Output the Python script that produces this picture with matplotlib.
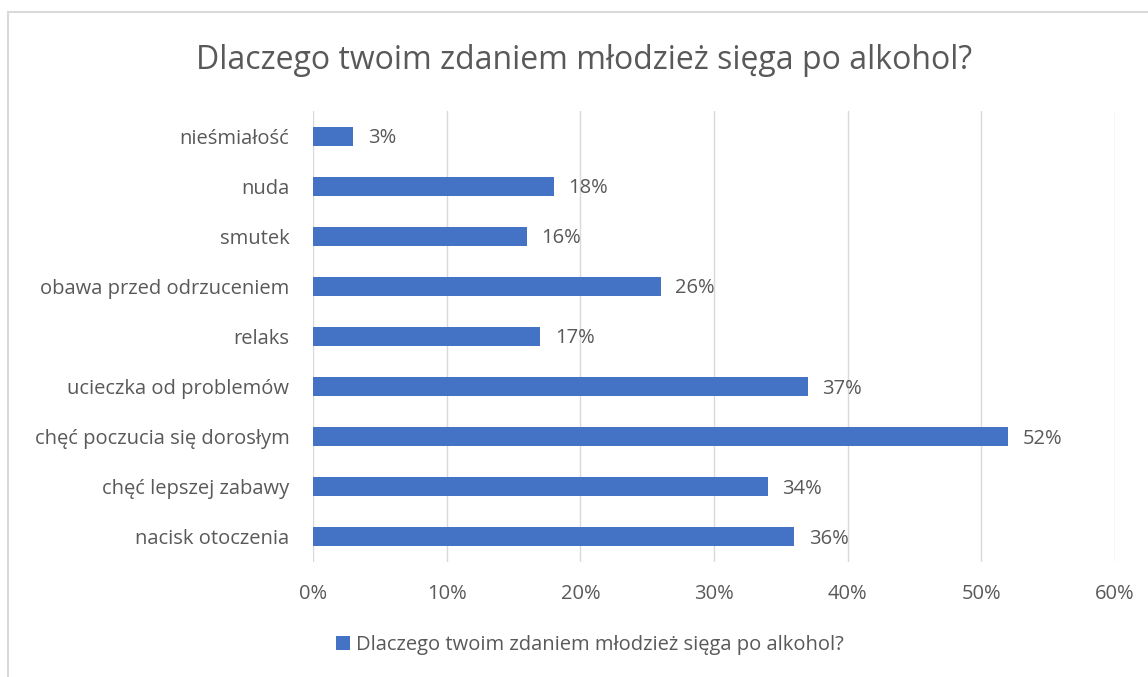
import matplotlib.pyplot as plt
from matplotlib.patches import Rectangle

title = "Dlaczego twoim zdaniem młodzież sięga po alkohol?"
categories = ["nieśmiałość", "nuda", "smutek", "obawa przed odrzuceniem", "relaks",
              "ucieczka od problemów", "chęć poczucia się dorosłym",
              "chęć lepszej zabawy", "nacisk otoczenia"]
values = [3, 18, 16, 26, 17, 37, 52, 34, 36]
xticks = [0, 10, 20, 30, 40, 50, 60]

bar_color = "#4472C4"
text_color = "#595959"
fs = 14.5
plt.rcParams["font.family"] = ["Open Sans", "DejaVu Sans"]

fig = plt.figure(figsize=(11.48, 6.77), dpi=100)
ax = fig.add_axes([0.2727, 0.170, 0.6986, 0.666])

pos = list(range(len(categories)))[::-1]
bars = ax.barh(pos, values, height=0.38, color=bar_color, label=title, zorder=3)
for p, v in zip(pos, values):
    ax.text(v + 1.1, p - 0.04, f"{v}%", va="center", ha="left", fontsize=fs, color=text_color)

ax.set_xlim(0, 60)
ax.set_ylim(-0.5, len(categories) - 0.5)
ax.set_xticks(xticks)
ax.set_xticklabels([f"{t}%" for t in xticks], fontsize=fs, color=text_color)
ax.set_yticks(pos)
ax.set_yticklabels(categories, fontsize=fs, color=text_color)
ax.tick_params(axis="x", length=0, pad=16)
ax.tick_params(axis="y", length=0, pad=17)
ax.grid(axis="x", color="#D9D9D9", linewidth=1, zorder=0)
for s in ax.spines.values():
    s.set_visible(False)

fig.text(0.509, 0.911, title, ha="center", va="center", fontsize=23, color=text_color)
fig.legend(handles=[bars], labels=[title], loc="center", bbox_to_anchor=(0.514, 0.047),
           frameon=False, fontsize=fs, labelcolor=text_color, handlelength=0.7,
           handleheight=0.7, handletextpad=0.3)

fig.patches.append(Rectangle((8 / 1148, -0.01), 1.1, 1 - 12 / 677 + 0.01, transform=fig.transFigure,
                             fill=False, edgecolor="#D9D9D9", linewidth=1.5))

fig.savefig("out.png", dpi=100)
